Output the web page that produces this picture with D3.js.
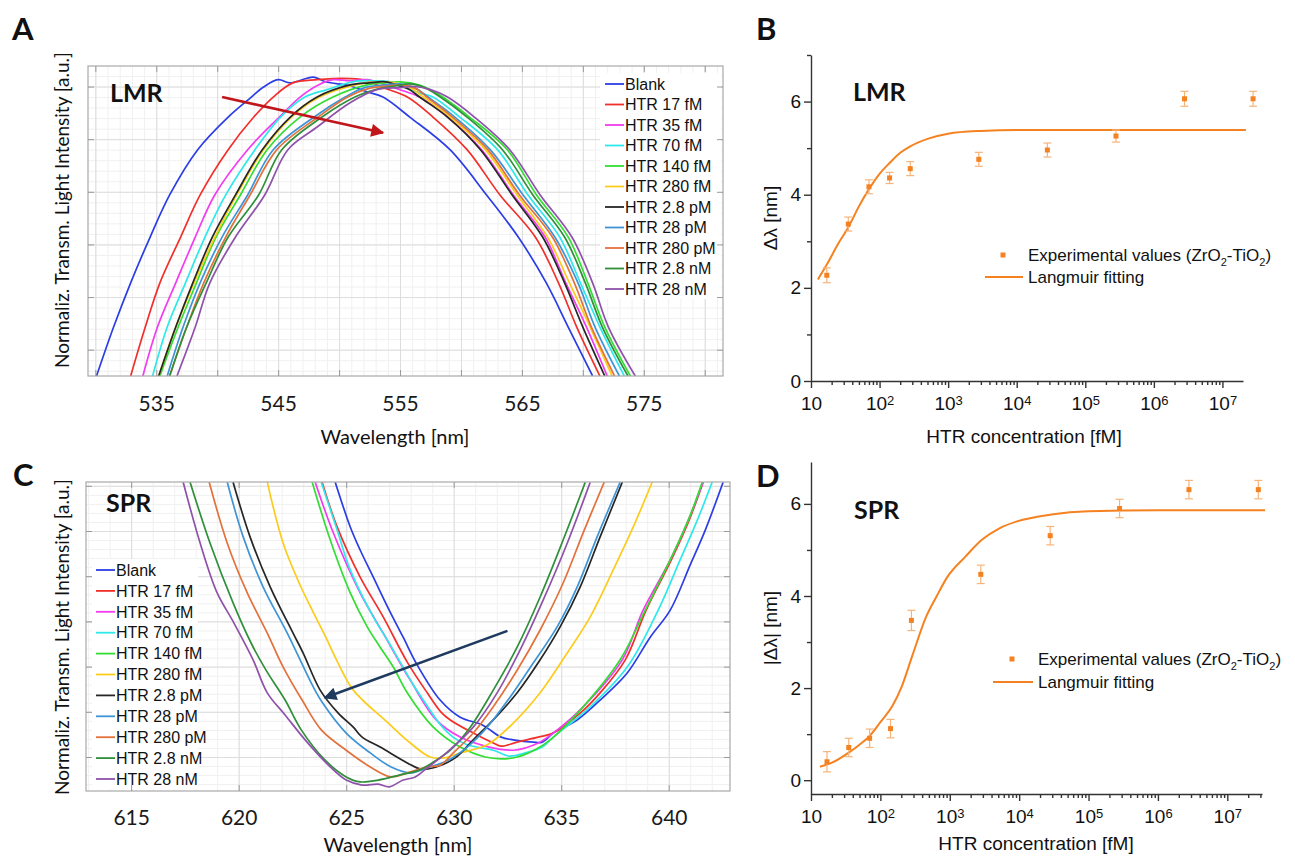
<!DOCTYPE html>
<html>
<head>
<meta charset="utf-8">
<script src="https://cdn.jsdelivr.net/npm/d3@7/dist/d3.min.js"></script>
<style>
  body { margin: 0; background: #fff; }
  svg { display: block; }
</style>
</head>
<body>
<svg id="fig" width="1295" height="859"></svg>
<script>
// ---------------- data ----------------
var seriesNames = ["Blank", "HTR 17 fM", "HTR 35 fM", "HTR 70 fM", "HTR 140 fM", "HTR 280 fM",
                   "HTR 2.8 pM", "HTR 28 pM", "HTR 280 pM", "HTR 2.8 nM", "HTR 28 nM"];
var seriesColors = ["#2b3ee6", "#f2302b", "#f23cf2", "#2ee8ea", "#33dd33", "#fccc1c",
                    "#262626", "#3e94d6", "#e2713c", "#2f8f3a", "#8f52aa"];

// panel A (LMR): [wavelength nm, normalised transmitted intensity]
var lmrBlank = [[530.1,45.0],[531.5,54.3],[532.9,62.7],[534.5,71.4],[536.1,79.4],[538.4,88.0],[540.9,94.2],[542.8,98.0],[543.8,99.9],[545.0,101.3],[546.0,100.7],[547.9,101.8],[548.9,100.9],[550.9,100.1],[552.3,99.0],[553.6,98.0],[555.8,94.2],[559.1,88.0],[562.1,79.4],[564.7,71.4],[567.0,62.7],[568.8,54.3],[570.8,45.0]];
var lmr17fM = [[532.9,45.0],[534.1,54.3],[535.3,62.7],[537.0,71.4],[538.6,79.4],[540.9,88.0],[543.0,94.2],[544.6,98.0],[546.2,100.7],[548.2,101.3],[549.5,101.5],[550.9,101.5],[552.3,101.1],[553.6,99.8],[555.6,98.0],[557.7,94.2],[560.5,88.0],[563.2,79.4],[566.1,71.4],[568.0,62.7],[569.5,54.3],[571.4,45.0]];
var lmr35fM = [[533.9,45.0],[535.1,54.3],[536.6,62.7],[538.2,71.4],[539.8,79.4],[542.5,88.0],[545.1,94.2],[546.8,98.0],[548.3,100.3],[549.5,101.3],[550.9,101.1],[552.3,101.3],[553.6,100.5],[555.0,99.4],[556.6,98.0],[558.9,94.2],[561.7,88.0],[564.3,79.4],[566.9,71.4],[568.6,62.7],[570.3,54.3],[572.0,45.0]];
var lmr70fM = [[534.7,45.0],[535.9,54.3],[537.4,62.7],[539.0,71.4],[540.7,79.4],[543.1,88.0],[545.2,94.2],[547.2,98.0],[549.0,99.4],[551.1,100.9],[552.8,101.1],[554.2,100.9],[555.4,99.9],[556.6,98.8],[557.7,98.0],[559.9,94.2],[563.0,88.0],[565.5,79.4],[568.1,71.4],[569.8,62.7],[571.4,54.3],[573.4,45.0]];
var lmr140fM = [[535.3,45.0],[536.8,54.3],[538.3,62.7],[539.9,71.4],[541.9,79.4],[544.1,88.0],[546.8,94.2],[549.5,98.0],[552.3,100.3],[553.8,100.7],[555.0,100.9],[556.6,100.3],[557.5,99.4],[558.5,98.0],[560.7,94.2],[563.8,88.0],[566.2,79.4],[568.8,71.4],[570.4,62.7],[571.8,54.3],[573.9,45.0]];
var lmr280fM = [[535.2,45.0],[536.6,54.3],[538.1,62.7],[539.8,71.4],[541.6,79.4],[543.8,88.0],[546.1,94.2],[548.4,98.0],[551.7,100.5],[553.4,100.9],[554.6,100.7],[555.8,99.8],[556.9,98.0],[559.1,94.2],[562.0,88.0],[564.6,79.4],[567.1,71.4],[568.9,62.7],[570.6,54.3],[572.4,45.0]];
var lmr2p8pM = [[535.2,45.0],[536.6,54.3],[538.0,62.7],[539.6,71.4],[541.5,79.4],[543.7,88.0],[546.0,94.2],[548.2,98.0],[550.9,100.3],[552.5,100.7],[553.8,100.9],[555.0,100.1],[555.8,99.4],[556.6,98.0],[558.9,94.2],[561.6,88.0],[564.2,79.4],[566.7,71.4],[568.5,62.7],[570.0,54.3],[571.8,45.0]];
var lmr28pM = [[535.9,45.0],[537.2,54.3],[538.6,62.7],[540.4,71.4],[542.5,79.4],[544.6,88.0],[548.2,94.6],[550.5,98.0],[552.1,99.8],[553.8,100.3],[555.0,100.5],[556.2,99.8],[557.3,98.0],[559.5,94.2],[562.4,88.0],[565.1,79.4],[567.7,71.4],[569.6,62.7],[571.0,54.3],[573.0,45.0]];
var lmr280pM = [[536.1,45.0],[537.5,54.3],[538.9,62.7],[540.7,71.4],[542.7,79.4],[544.9,88.0],[548.4,94.4],[550.7,98.0],[552.4,99.6],[554.0,100.1],[555.2,100.3],[556.3,99.6],[557.2,98.0],[559.3,94.2],[562.2,88.0],[564.8,79.4],[567.5,71.4],[569.3,62.7],[570.7,54.3],[572.6,45.0]];
var lmr2p8nM = [[536.1,45.0],[537.5,54.3],[539.1,62.7],[540.9,71.4],[543.4,79.4],[545.3,88.0],[548.6,94.2],[551.3,98.0],[553.0,99.4],[554.6,100.1],[555.8,100.5],[557.0,99.8],[558.3,98.0],[560.5,94.2],[563.4,88.0],[565.9,79.4],[568.5,71.4],[570.2,62.7],[571.6,54.3],[573.7,45.0]];
var lmr28nM = [[536.7,45.0],[538.2,54.3],[539.4,62.7],[541.5,71.4],[543.9,79.4],[545.8,88.0],[548.2,92.3],[550.9,96.9],[553.1,99.4],[555.0,99.8],[556.2,100.0],[557.5,99.4],[558.9,98.0],[561.1,94.2],[564.0,88.0],[566.5,79.4],[569.1,71.4],[570.8,62.7],[572.1,54.3],[574.3,45.0]];
var lmrSpectra = [lmrBlank, lmr17fM, lmr35fM, lmr70fM, lmr140fM, lmr280fM, lmr2p8pM, lmr28pM, lmr280pM, lmr2p8nM, lmr28nM];

// panel C (SPR): [wavelength nm, normalised transmitted intensity]
var sprBlank = [[624.49,70.8],[625.19,60.9],[625.65,55.8],[626.26,49.8],[627.00,42.5],[627.65,36.5],[628.30,30.4],[629.37,22.6],[630.30,18.8],[631.33,17.1],[632.21,14.4],[632.77,13.8],[633.70,13.3],[634.12,13.3],[634.63,15.3],[635.74,18.2],[636.81,22.6],[638.07,28.6],[639.14,36.5],[640.07,42.5],[641.00,52.5],[641.70,60.2],[642.53,70.8]];
var spr17fM = [[623.88,70.8],[624.58,60.9],[625.65,49.8],[626.72,41.0],[627.84,31.0],[628.77,24.2],[629.40,20.0],[629.84,18.2],[630.91,15.3],[631.84,13.1],[632.21,12.4],[632.95,13.3],[633.93,14.4],[634.63,15.3],[635.88,19.7],[636.81,24.2],[637.98,31.5],[638.95,42.5],[640.12,53.6],[640.95,62.4],[641.60,70.8]];
var spr35fM = [[623.56,70.8],[624.40,59.6],[625.65,46.3],[626.72,37.4],[627.98,27.0],[629.19,18.2],[630.30,14.4],[631.65,12.2],[632.77,11.5],[633.33,12.0],[633.93,13.1],[634.63,15.3],[636.02,21.1],[637.84,31.5],[638.81,42.5],[640.07,53.6],[640.91,62.4],[641.60,70.8]];
var spr70fM = [[623.84,70.8],[624.58,60.2],[625.19,51.4],[626.26,41.0],[626.91,35.9],[627.51,31.0],[628.12,26.0],[628.77,21.3],[629.37,17.2],[630.00,14.3],[630.63,12.7],[631.84,11.5],[632.58,10.2],[633.33,10.9],[634.12,12.2],[634.63,14.4],[636.35,21.1],[638.07,29.9],[639.51,42.5],[640.53,53.6],[641.33,62.4],[642.02,70.8]];
var spr140fM = [[623.42,70.8],[624.26,58.0],[625.19,46.3],[625.98,38.8],[626.58,34.3],[627.19,29.9],[627.84,24.2],[629.05,16.6],[630.30,12.2],[631.47,10.0],[632.21,9.6],[632.95,10.0],[633.74,11.5],[634.49,13.8],[636.02,21.1],[637.74,31.5],[638.91,42.5],[640.07,53.6],[640.91,62.4],[641.56,70.8]];
var spr280fM = [[621.33,70.8],[622.07,57.3],[622.86,48.0],[623.47,42.0],[624.00,37.0],[624.60,31.0],[625.33,24.8],[626.91,17.7],[627.98,13.1],[628.91,10.0],[629.56,9.8],[630.30,10.9],[631.56,12.7],[632.77,17.5],[634.02,24.2],[635.28,33.0],[636.35,41.0],[637.42,51.4],[638.35,60.9],[639.23,70.8]];
var spr2p8pM = [[619.74,70.8],[620.53,58.7],[621.47,47.6],[622.53,37.4],[623.00,33.0],[623.79,24.8],[624.63,19.7],[625.33,16.6],[625.74,14.4],[626.58,12.2],[627.84,8.7],[628.49,7.3],[629.19,7.8],[630.07,9.8],[630.91,13.8],[631.84,18.2],[632.95,24.2],[634.02,31.5],[634.95,38.8],[635.88,47.6],[636.81,58.7],[637.84,70.8]];
var spr28pM = [[619.47,70.8],[620.21,58.7],[621.14,47.6],[622.26,37.4],[623.47,25.5],[623.90,22.0],[625.00,15.3],[626.12,10.9],[627.09,7.8],[628.02,6.5],[628.77,7.6],[629.74,9.3],[630.63,12.2],[631.56,16.6],[632.63,23.3],[633.70,30.8],[634.81,38.8],[635.74,47.6],[636.67,58.7],[637.74,70.8]];
var spr280pM = [[618.63,70.8],[619.47,57.3],[620.40,46.3],[621.33,37.4],[622.07,29.9],[622.95,22.6],[623.84,16.0],[625.00,11.5],[626.12,7.8],[627.09,5.6],[627.84,6.5],[628.77,7.8],[629.37,8.2],[629.98,10.9],[630.91,15.3],[631.84,21.1],[632.95,29.2],[634.02,38.1],[635.09,48.5],[636.02,59.6],[637.00,70.8]];
var spr2p8nM = [[617.74,70.8],[618.67,57.3],[619.74,44.1],[620.60,35.0],[621.30,29.0],[622.16,22.6],[622.91,16.0],[624.02,9.3],[625.00,5.6],[625.65,4.5],[626.49,4.9],[627.47,6.0],[628.40,7.1],[629.19,9.3],[629.84,11.5],[630.77,16.6],[631.84,24.8],[632.95,34.3],[634.02,45.4],[635.09,58.0],[636.12,70.8]];
var spr28nM = [[617.42,70.8],[618.21,57.3],[619.00,46.3],[619.74,40.0],[620.67,31.5],[621.33,24.2],[622.16,19.3],[623.09,13.8],[624.26,7.8],[625.00,4.9],[625.74,3.8],[626.49,4.0],[627.00,3.4],[627.65,4.9],[628.21,5.6],[628.77,7.6],[629.70,11.1],[630.91,16.6],[632.02,24.2],[633.09,33.7],[634.16,44.7],[635.28,57.3],[636.35,70.8]];
var sprSpectra = [sprBlank, spr17fM, spr35fM, spr70fM, spr140fM, spr280fM, spr2p8pM, spr28pM, spr280pM, spr2p8nM, spr28nM];

var lmrTickLabels = [535, 545, 555, 565, 575];
var sprTickLabels = [615, 620, 625, 630, 635, 640];

// shift arrows drawn on the spectra, [wavelength, intensity] from tail to head
var lmrArrow = [[540.4, 98.0], [553.6, 91.2]];
var sprArrow = [[632.5, 37.9], [624.0, 23.1]];

// panels B and D: wavelength shift vs HTR concentration
var concentration = [17, 35, 70, 140, 280, 2800, 28000, 280000, 2800000, 28000000]; // fM
var lmrShift = [2.27, 3.37, 4.17, 4.36, 4.56, 4.76, 4.96, 5.26, 6.06, 6.06];
var lmrError = [0.16, 0.15, 0.15, 0.12, 0.15, 0.15, 0.15, 0.13, 0.16, 0.16];
var lmrFit = [[12.6,2.18],[17,2.5],[25,2.95],[35,3.3],[50,3.75],[70,4.12],[100,4.45],[140,4.68],[200,4.9],[280,5.04],[500,5.2],[1000,5.31],[3000,5.37],[10000,5.39],[22000000,5.39]];
var sprShift = [0.40, 0.71, 0.91, 1.12, 3.47, 4.47, 5.31, 5.90, 6.31, 6.31];
var sprError = [0.22, 0.2, 0.2, 0.2, 0.22, 0.2, 0.2, 0.2, 0.2, 0.2];
var sprFit = [[13.5,0.29],[20,0.38],[35,0.6],[50,0.77],[70,0.96],[100,1.26],[150,1.62],[205,2.05],[288,2.7],[457,3.55],[650,4.0],[930,4.42],[1670,4.85],[2900,5.22],[5200,5.47],[9300,5.62],[29000,5.77],[100000,5.84],[1000000,5.86],[35000000,5.86]];

// ---------------- drawing ----------------
var CAL = "Lato, 'Open Sans', sans-serif";
var ARIAL = "'Liberation Sans', Arial, sans-serif";
var ORANGE = "#f58220";

var svg = d3.select("#fig");
var defs = svg.append("defs");

var translate = function (x, y) {
  return "translate(" + x + "," + y + ")";
};

var addText = function (x, y, str, size, family, weight) {
  return svg.append("text").attr("x", x).attr("y", y)
    .attr("font-family", family).attr("font-size", size)
    .attr("font-weight", weight || "normal").attr("fill", "#111").text(str);
};

var plainTicks = function (sel, colour) {
  sel.select(".domain").remove();
  sel.selectAll(".tick line").attr("stroke", colour);
};

var drawSpectra = function (cfg) {
  var x = d3.scaleLinear().domain(cfg.xDomain).range([cfg.left, cfg.right]);
  var y = d3.scaleLinear().domain(cfg.yDomain).range([cfg.bottom, cfg.top]);
  var w = cfg.right - cfg.left, h = cfg.bottom - cfg.top;
  var g = svg.append("g");

  defs.append("clipPath").attr("id", cfg.id + "-clip").append("rect")
    .attr("x", cfg.left).attr("y", cfg.top).attr("width", w).attr("height", h);

  var grid = function (xv, yv, colour) {
    g.append("g").attr("transform", translate(0, cfg.top))
      .call(d3.axisBottom(x).tickValues(xv).tickSize(h).tickFormat(""))
      .call(plainTicks, colour);
    g.append("g").attr("transform", translate(cfg.left, 0))
      .call(d3.axisRight(y).tickValues(yv).tickSize(w).tickFormat(""))
      .call(plainTicks, colour);
  };
  grid(cfg.xMinor, cfg.yMinor, "#f0f0f0");
  grid(cfg.xMajor, cfg.yMajor, "#dddddd");

  var line = d3.line().curve(d3.curveCatmullRom.alpha(0.5))
    .x(function (d) { return x(d[0]); }).y(function (d) { return y(d[1]); });
  g.append("g").attr("clip-path", "url(#" + cfg.id + "-clip)")
    .selectAll("path").data(cfg.series).join("path")
    .attr("d", line).attr("fill", "none")
    .attr("stroke", function (d, i) { return seriesColors[i]; })
    .attr("stroke-width", 1.7).attr("stroke-linejoin", "round");

  // legend
  var L = cfg.legend;
  g.append("rect").attr("x", L.bx).attr("y", L.by).attr("width", L.bw).attr("height", L.bh).attr("fill", "#fff");
  var rows = g.append("g").selectAll("g").data(seriesNames).join("g")
    .attr("transform", function (d, i) { return translate(L.x, L.y + i * L.step); });
  rows.append("line").attr("x1", 0).attr("x2", 19).attr("y1", 0).attr("y2", 0)
    .attr("stroke", function (d, i) { return seriesColors[i]; }).attr("stroke-width", 1.8);
  rows.append("text").attr("x", 20).attr("dy", "0.36em")
    .attr("font-family", ARIAL).attr("font-size", 16).attr("fill", "#111")
    .text(function (d) { return d; });

  // frame and inward ticks
  g.append("rect").attr("x", cfg.left).attr("y", cfg.top).attr("width", w).attr("height", h)
    .attr("fill", "none").attr("stroke", "#a9a9a9").attr("stroke-width", 1.2);
  var labelled = function (d) { return cfg.tickLabels.indexOf(d) >= 0 ? d : ""; };
  g.append("g").attr("transform", translate(0, cfg.bottom))
    .call(d3.axisBottom(x).tickValues(cfg.xMajor).tickSize(-6).tickPadding(cfg.labelPad).tickFormat(labelled))
    .call(plainTicks, "#9a9a9a")
    .call(function (a) {
      a.selectAll("text").attr("font-family", CAL).attr("font-size", 21).attr("fill", "#1a1a1a");
    });
  g.append("g").attr("transform", translate(0, cfg.top))
    .call(d3.axisTop(x).tickValues(cfg.xMajor).tickSize(-6).tickFormat(""))
    .call(plainTicks, "#9a9a9a");
  g.append("g").attr("transform", translate(cfg.left, 0))
    .call(d3.axisLeft(y).tickValues(cfg.yMajor).tickSize(-6).tickFormat(""))
    .call(plainTicks, "#9a9a9a");
  g.append("g").attr("transform", translate(cfg.right, 0))
    .call(d3.axisRight(y).tickValues(cfg.yMajor).tickSize(-6).tickFormat(""))
    .call(plainTicks, "#9a9a9a");

  // shift arrow
  var mid = cfg.id + "-head";
  defs.append("marker").attr("id", mid).attr("viewBox", "0 0 10 10")
    .attr("refX", 9).attr("refY", 5).attr("markerWidth", 6).attr("markerHeight", 5)
    .attr("markerUnits", "strokeWidth").attr("orient", "auto")
    .append("path").attr("d", "M0,0 L10,5 L0,10 z").attr("fill", cfg.arrowColour);
  g.append("line")
    .attr("x1", x(cfg.arrow[0][0])).attr("y1", y(cfg.arrow[0][1]))
    .attr("x2", x(cfg.arrow[1][0])).attr("y2", y(cfg.arrow[1][1]))
    .attr("stroke", cfg.arrowColour).attr("stroke-width", 2.6)
    .attr("marker-end", "url(#" + mid + ")");

  // titles
  addText(cfg.tag[0], cfg.tag[1], cfg.tag[2], 25, CAL, "bold");
  addText(cfg.xLabel[0], cfg.xLabel[1], "Wavelength [nm]", 20, CAL).attr("text-anchor", "middle");
  addText(0, 0, "Normaliz. Transm. Light Intensity [a.u.]", 19, CAL)
    .attr("text-anchor", "middle")
    .attr("transform", translate(cfg.yLabel[0], cfg.yLabel[1]) + " rotate(-90)");
};

var drawLangmuir = function (cfg) {
  var x = d3.scaleLog().domain(cfg.xDomain).range([cfg.left, cfg.right]);
  var y = d3.scaleLinear().domain(cfg.yDomain).range([cfg.bottom, cfg.top]);
  var g = svg.append("g");
  var axisCol = "#333";

  var decades = x.ticks().filter(function (v) { return Math.abs(Math.log10(v) - Math.round(Math.log10(v))) < 1e-9; });
  var minors = x.ticks().filter(function (v) { return decades.indexOf(v) < 0; });

  g.append("g").attr("transform", translate(0, cfg.bottom))
    .call(d3.axisBottom(x).tickValues(minors).tickSize(4).tickSizeOuter(0).tickFormat(""))
    .call(function (a) { a.selectAll("line,path").attr("stroke", axisCol).attr("stroke-width", 1.4); });
  g.append("g").attr("transform", translate(0, cfg.bottom))
    .call(d3.axisBottom(x).tickValues(decades).tickSize(7).tickSizeOuter(0).tickPadding(cfg.xPad).tickFormat(""))
    .call(function (a) {
      a.select(".domain").remove();
      a.selectAll("line").attr("stroke", axisCol).attr("stroke-width", 1.4);
      a.selectAll(".tick text").attr("font-family", ARIAL).attr("font-size", 19).attr("fill", "#111")
        .each(function (d) {
          var e = Math.round(Math.log10(d));
          var t = d3.select(this);
          t.append("tspan").text("10");
          if (e > 1) t.append("tspan").attr("dy", "-0.45em").attr("font-size", 13).text(e);
        });
    });

  g.append("g").attr("transform", translate(cfg.left, 0))
    .call(d3.axisLeft(y).tickValues(cfg.yMinor).tickSize(4).tickSizeOuter(0).tickFormat(""))
    .call(function (a) { a.selectAll("line,path").attr("stroke", axisCol).attr("stroke-width", 1.4); });
  g.append("g").attr("transform", translate(cfg.left, 0))
    .call(d3.axisLeft(y).tickValues(cfg.yMajor).tickSize(7).tickPadding(3).tickFormat(d3.format("d")))
    .call(function (a) {
      a.select(".domain").remove();
      a.selectAll("line").attr("stroke", axisCol).attr("stroke-width", 1.4);
      a.selectAll("text").attr("font-family", ARIAL).attr("font-size", 19).attr("fill", "#111");
    });

  // Langmuir fit
  var fit = d3.line().curve(d3.curveMonotoneX)
    .x(function (d) { return x(d[0]); }).y(function (d) { return y(d[1]); });
  g.append("path").datum(cfg.fit).attr("d", fit).attr("fill", "none")
    .attr("stroke", ORANGE).attr("stroke-width", 2);

  // error bars and points
  var pts = concentration.map(function (c, i) { return { c: c, v: cfg.values[i], e: cfg.errors[i] }; });
  var eb = g.append("g").attr("stroke", "#f7b47a").attr("stroke-width", 1.2);
  eb.selectAll(".v").data(pts).join("line")
    .attr("x1", function (d) { return x(d.c); }).attr("x2", function (d) { return x(d.c); })
    .attr("y1", function (d) { return y(d.v - d.e); }).attr("y2", function (d) { return y(d.v + d.e); });
  [-1, 1].forEach(function (s) {
    eb.append("g").selectAll("line").data(pts).join("line")
      .attr("x1", function (d) { return x(d.c) - 4; }).attr("x2", function (d) { return x(d.c) + 4; })
      .attr("y1", function (d) { return y(d.v + s * d.e); }).attr("y2", function (d) { return y(d.v + s * d.e); });
  });
  g.append("g").selectAll("rect").data(pts).join("rect")
    .attr("x", function (d) { return x(d.c) - 2.5; }).attr("y", function (d) { return y(d.v) - 2.5; })
    .attr("width", 5).attr("height", 5).attr("fill", ORANGE);

  // legend
  var L = cfg.legend;
  g.append("rect").attr("x", L.x - 2.5).attr("y", L.y - 2.5).attr("width", 5).attr("height", 5).attr("fill", ORANGE);
  var t1 = g.append("text").attr("x", L.tx).attr("y", L.y).attr("dy", "0.36em")
    .attr("font-family", ARIAL).attr("font-size", 17).attr("fill", "#111");
  t1.append("tspan").text("Experimental values (ZrO");
  t1.append("tspan").attr("dy", 5).attr("font-size", 11).text("2");
  t1.append("tspan").attr("dy", -5).text("-TiO");
  t1.append("tspan").attr("dy", 5).attr("font-size", 11).text("2");
  t1.append("tspan").attr("dy", -5).text(")");
  g.append("line").attr("x1", L.lx).attr("x2", L.tx - 5).attr("y1", L.y + L.step).attr("y2", L.y + L.step)
    .attr("stroke", ORANGE).attr("stroke-width", 2);
  g.append("text").attr("x", L.tx).attr("y", L.y + L.step).attr("dy", "0.36em")
    .attr("font-family", ARIAL).attr("font-size", 17).attr("fill", "#111").text("Langmuir fitting");

  addText(cfg.tag[0], cfg.tag[1], cfg.tag[2], 25, CAL, "bold");
  addText(cfg.xLabelX, cfg.xLabelY, "HTR concentration [fM]", 19, ARIAL).attr("text-anchor", "middle");
  addText(0, 0, cfg.yTitle, 19, ARIAL).attr("text-anchor", "middle")
    .attr("transform", translate(cfg.yLabelX, (cfg.top + cfg.bottom) / 2) + " rotate(-90)");
};

// panel letters
addText(12, 40, "A", 31, CAL, "bold");
addText(756, 40, "B", 31, CAL, "bold");
addText(13, 486, "C", 31, CAL, "bold");
addText(756, 487, "D", 31, CAL, "bold");

drawSpectra({
  id: "lmr", left: 88, right: 723, top: 66, bottom: 376,
  xDomain: [529.4, 581.5], yDomain: [45, 103.9],
  xMajor: d3.range(530, 581, 5), xMinor: d3.range(530, 582, 1),
  yMajor: d3.range(50, 101, 10), yMinor: d3.range(46, 104, 2),
  tickLabels: lmrTickLabels, labelPad: 20,
  series: lmrSpectra,
  legend: { bx: 600, by: 73, bw: 121, bh: 226, x: 605, y: 84, step: 20.5 },
  arrow: lmrArrow, arrowColour: "#c0161b",
  tag: [110, 102, "LMR"], xLabel: [395, 444], yLabel: [69, 210]
});

drawSpectra({
  id: "spr", left: 86, right: 730, top: 482, bottom: 791,
  xDomain: [612.9, 642.85], yDomain: [2.48, 70.84],
  xMajor: d3.range(615, 641, 5), xMinor: d3.range(613, 643, 1),
  yMajor: d3.range(10, 71, 10), yMinor: d3.range(4, 71, 2),
  tickLabels: sprTickLabels, labelPad: 19,
  series: sprSpectra,
  legend: { bx: 92, by: 559, bw: 106, bh: 230, x: 96, y: 570, step: 20.9 },
  arrow: sprArrow, arrowColour: "#1f3a5f",
  tag: [106, 512, "SPR"], xLabel: [398, 852], yLabel: [69, 637]
});

drawLangmuir({
  left: 811, right: 1243, top: 55, bottom: 381,
  xDomain: [10, Math.pow(10, 7.3)], yDomain: [0, 7],
  yMajor: [0, 2, 4, 6], yMinor: [1, 3, 5, 7], xPad: 9,
  values: lmrShift, errors: lmrError, fit: lmrFit,
  legend: { x: 1003, y: 255, tx: 1028, lx: 985, step: 22 },
  tag: [853, 101, "LMR"], xLabelX: 1024, xLabelY: 443, yLabelX: 777, yTitle: "\u0394\u03bb [nm]"
});

drawLangmuir({
  left: 811, right: 1262, top: 462, bottom: 794,
  xDomain: [10, Math.pow(10, 7.5)], yDomain: [-0.3, 6.91],
  yMajor: [0, 2, 4, 6], yMinor: [1, 3, 5], xPad: 9,
  values: sprShift, errors: sprError, fit: sprFit,
  legend: { x: 1012, y: 659, tx: 1038, lx: 993, step: 23 },
  tag: [854, 519, "SPR"], xLabelX: 1036, xLabelY: 850, yLabelX: 777, yTitle: "|\u0394\u03bb| [nm]"
});
</script>
</body>
</html>
